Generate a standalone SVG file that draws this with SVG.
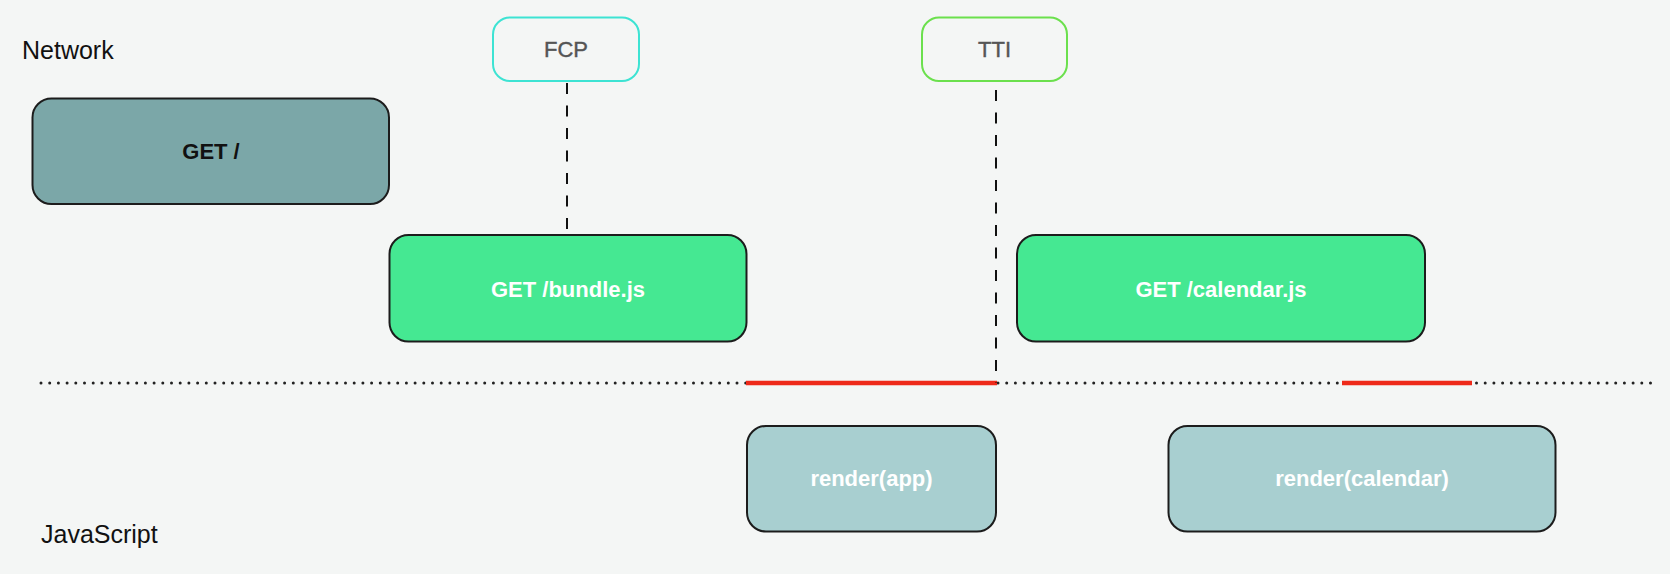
<svg xmlns="http://www.w3.org/2000/svg" width="1670" height="574" viewBox="0 0 1670 574">
<style>
.lbl{font-family:"Liberation Sans",Arial,Helvetica,sans-serif;font-size:25px;fill:#111}
.box{stroke:#1c1c1c;stroke-width:2}
.bt{font-family:"Liberation Sans",Arial,Helvetica,sans-serif;font-size:22px;font-weight:bold;text-anchor:middle;fill:#fff}
.mk{fill:none;stroke-width:2}
.mt{font-family:"Liberation Sans",Arial,Helvetica,sans-serif;font-size:22px;text-anchor:middle;fill:#555;stroke:#555;stroke-width:0.4}
.dash{stroke:#111;stroke-width:2;stroke-dasharray:11 11.5;fill:none}
</style>
<rect width="1670" height="574" fill="#F4F6F5"/>
<text class="lbl" x="22" y="59">Network</text>
<text class="lbl" x="41" y="543">JavaScript</text>
<g id="connectors">
<line x1="41" y1="383" x2="1653" y2="383" stroke="#222" stroke-width="3" stroke-linecap="round" stroke-dasharray="0 8.7"/>
<line x1="746" y1="383" x2="997" y2="383" stroke="#EE2A1A" stroke-width="4.5"/>
<line x1="1342" y1="383" x2="1472" y2="383" stroke="#EE2A1A" stroke-width="4.5"/>
<line class="dash" x1="567" y1="83" x2="567" y2="235"/>
<line class="dash" x1="996" y1="90" x2="996" y2="383"/>
</g>
<g id="fcp">
<rect class="mk" x="493" y="17.5" width="146" height="63.5" rx="17" stroke="#3DE3D3"/>
<text class="mt" x="566" y="57">FCP</text>
</g>
<g id="tti">
<rect class="mk" x="922" y="17.5" width="145" height="63.5" rx="17" stroke="#6BE04D"/>
<text class="mt" x="994.5" y="57">TTI</text>
</g>
<g id="get-root">
<rect class="box" x="32.5" y="98.5" width="356.5" height="105.5" rx="19" fill="#7BA7A8"/>
<text class="bt" x="211" y="159" style="fill:#111">GET /</text>
</g>
<g id="get-bundle">
<rect class="box" x="389.5" y="235" width="357" height="106.5" rx="19" fill="#45E892"/>
<text class="bt" x="568" y="297">GET /bundle.js</text>
</g>
<g id="get-calendar">
<rect class="box" x="1017" y="235" width="408" height="106.5" rx="19" fill="#45E892"/>
<text class="bt" x="1221" y="297">GET /calendar.js</text>
</g>
<g id="render-app">
<rect class="box" x="747" y="426" width="249" height="105.5" rx="19" fill="#A8CFD0"/>
<text class="bt" x="871.5" y="486">render(app)</text>
</g>
<g id="render-calendar">
<rect class="box" x="1168.5" y="426" width="387" height="105.5" rx="19" fill="#A8CFD0"/>
<text class="bt" x="1362" y="486">render(calendar)</text>
</g>
</svg>
